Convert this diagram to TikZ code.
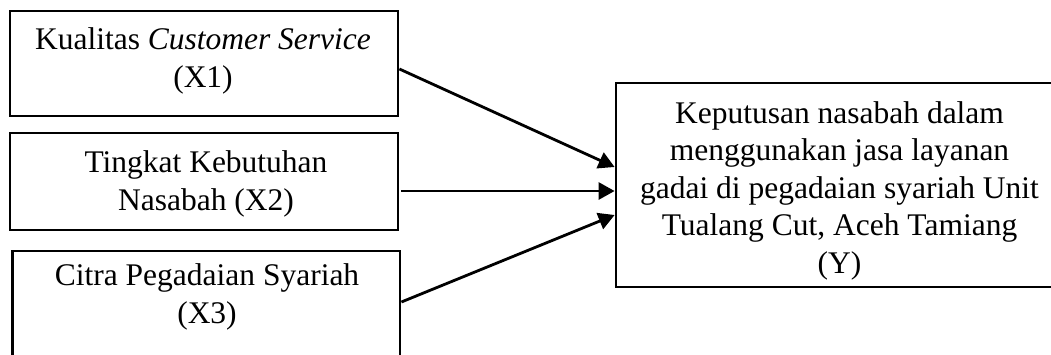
\documentclass[tikz,border=0pt]{standalone}
\usepackage{fontspec}
\setmainfont{Liberation Serif}
\usetikzlibrary{arrows.meta}
\tikzset{
  box/.style={draw, line width=2.8pt, rectangle, inner sep=0pt},
  lbl/.style={align=center, inner sep=0pt, anchor=base, font=\fontsize{31.5}{37.5}\selectfont},
  conn/.style={line width=2.8pt, -{Triangle[length=16pt,width=17pt]}, shorten >=0pt}
}
\begin{document}
\begin{tikzpicture}[x=1pt,y=-1pt]
\useasboundingbox (0,0) rectangle (1051,354);
\clip (0,0) rectangle (1051,354);
% boxes
\node[box, minimum width=388pt, minimum height=105pt] (b1) at (204,63.5) {};
\node[box, minimum width=388pt, minimum height=97pt] (b2) at (204,181.5) {};
\node[box, minimum width=387.5pt, minimum height=149pt] (b3) at (206.25,325.5) {};
\node[box, minimum width=447pt, minimum height=204pt] (y) at (839.5,185) {};
% texts (anchor base = last line baseline)
\node[lbl] (t1) at (203,87) {Kualitas \textit{Customer Service}\\(X1)};
\node[lbl] (t2) at (206,210) {Tingkat Kebutuhan\\Nasabah (X2)};
\node[lbl] (t3) at (207,323) {Citra Pegadaian Syariah\\(X3)};
\node[lbl] (ty) at (839.5,273) {Keputusan nasabah dalam\\menggunakan jasa layanan\\gadai di pegadaian syariah Unit\\Tualang Cut, Aceh Tamiang\\(Y)};
% connectors
\draw[conn] ([yshift=-5.5pt]b1.east) -- ([yshift=18pt]y.west);
\draw[conn] ([xshift=2pt,yshift=-9.5pt]b2.east) -- ([yshift=-6pt]y.west);
\draw[conn] ([xshift=0pt,yshift=23.5pt]b3.east) -- ([yshift=-30pt]y.west);
\end{tikzpicture}
\end{document}
